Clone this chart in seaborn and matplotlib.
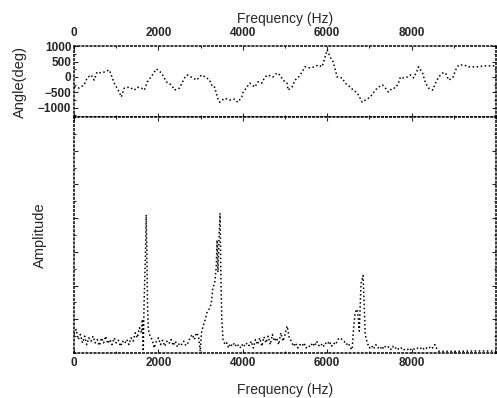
import matplotlib
matplotlib.use("Agg")
import matplotlib.pyplot as plt
import seaborn as sns
import numpy as np
import pandas as pd
from matplotlib.ticker import MultipleLocator, NullFormatter

sns.set_style("ticks")
plt.rcParams['font.family'] = ['Liberation Sans', 'DejaVu Sans']

# phase spectrum
phase_freq = [0, 119, 238, 310, 405, 476, 547, 643, 714, 833, 881, 952, 1071, 1119, 1190,
              1309, 1428, 1500, 1595, 1666, 1737, 1856, 1952, 2071, 2190, 2309, 2380, 2500,
              2618, 2690, 2800, 2904, 3023, 3142, 3213, 3284, 3332, 3404, 3451, 3570, 3690,
              3808, 3880, 3975, 3999, 4094, 4165, 4284, 4355, 4450, 4522, 4593, 4712, 4808,
              4879, 4950, 5046, 5070, 5165, 5236, 5307, 5403, 5474, 5593, 5712, 5783, 5879,
              5950, 5998, 6069, 6140, 6236, 6355, 6426, 6545, 6616, 6712, 6831, 6902, 7021,
              7140, 7211, 7307, 7378, 7449, 7545, 7616, 7687, 7735, 7806, 7902, 7973, 8044,
              8140, 8163, 8259, 8330, 8401, 8497, 8568, 8639, 8735, 8806, 8878, 8973, 9044,
              9115, 9234, 9353, 9472, 9591, 9710, 9877, 9996]
phase_deg = [-320, -360, -260, -30, 65, -100, 160, 130, 160, 230, 65, -200, -490, -650, -360,
             -330, -425, -330, -360, -425, -160, 65, 260, 130, -160, -260, -425, -360,
             -30, 65, np.nan, -100, 65, -30, -100, -330, -330, -690, -820, -690, -750,
             -720, -820, -650, -520, -330, -200, -330, -160, -200, 0, 65, 0, 130,
             65, -100, -200, -425, -330, -100, -30, 160, 330, 295, 330, 390, 330,
             650, 880, 650, 490, 0, -30, -200, -330, -425, -520, -820, -750, -650,
             -425, -330, -260, -360, -490, -360, -360, -200, 0, -30, 0, 65, -30,
             230, 330, 130, -200, -360, -425, -200, 0, 130, 130, -100, -30, 230,
             390, 390, 330, 330, 330, 360, 360, 360]

# amplitude spectrum (arbitrary units)
amp_freq = [0, 50, 100, 150, 200, 250, 300, 350, 400, 450, 500, 550, 600, 650, 700, 750,
            800, 850, 900, 950, 1000, 1050, 1100, 1150, 1200, 1250, 1300, 1350, 1400, 1450,
            1500, 1550, 1600, 1620, 1640, 1660, 1690, 1710, 1725, 1740, 1760, 1800, 1850,
            1900, 1950, 2000, 2050, 2100, 2150, 2200, 2250, 2300, 2350, 2400, 2450, 2500,
            2550, 2600, 2650, 2700, 2750, 2800, 2850, 2900, 2950, 2990, 3020, 3060, 3100,
            3150, 3200, 3250, 3290, 3330, 3370, 3390, 3410, 3440, 3460, 3480, 3500, 3530,
            3580, 3620, 3660, 3700, 3750, 3800, 3850, 3900, 3950, 4000, 4050, 4100, 4150,
            4200, 4250, 4300, 4350, 4400, 4450, 4500, 4550, 4600, 4650, 4700, 4750, 4800,
            4850, 4900, 4950, 5000, 5050, 5100, 5150, 5200, 5250, 5300, 5350, 5400, 5450,
            5500, 5550, 5600, 5650, 5700, 5750, 5800, 5850, 5900, 5950, 6000, 6050, 6100,
            6150, 6200, 6250, 6300, 6350, 6400, 6450, 6500, 6550, 6590, 6620, 6660, 6710,
            6735, 6760, 6800, 6850, 6870, 6900, 6950, 7000, 7050, 7100, 7150, 7200, 7250,
            7300, 7350, 7400, 7450, 7500, 7550, 7600, 7650, 7700, 7750, 7800, 7850, 7900,
            7950, 8000, 8050, 8100, 8150, 8200, 8250, 8300, 8350, 8400, 8450, 8500, 8550,
            8600, 8650, 9000, 9500, 10000]
amp_val = [0.55, 0.70, 0.40, 0.55, 0.30, 0.50, 0.25, 0.45, 0.35, 0.50, 0.30, 0.40, 0.22, 0.45, 0.30, 0.50,
           0.28, 0.40, 0.25, 0.45, 0.30, 0.38, 0.20, 0.35, 0.28, 0.40, 0.25, 0.45, 0.35, 0.60,
           0.45, 0.75, 0.60, 1.00, 0.05, 1.50, 2.80, 4.10, 3.00, 1.50, 0.70, 0.50, 0.40,
           0.15, 0.35, 0.45, 0.25, 0.38, 0.20, 0.35, 0.28, 0.40, 0.22, 0.35, 0.18, 0.30,
           0.25, 0.35, 0.22, 0.30, 0.45, 0.55, 0.40, 0.60, 0.50, 0.05, 0.60, 0.80, 0.95,
           1.20, 1.30, 1.45, 1.95, 2.05, 2.55, 3.35, 2.40, 3.55, 4.15, 2.30, 1.05, 0.40,
           0.25, 0.30, 0.15, 0.28, 0.20, 0.30, 0.18, 0.25, 0.15, 0.28, 0.20, 0.30, 0.22,
           0.35, 0.15, 0.40, 0.25, 0.45, 0.20, 0.48, 0.30, 0.50, 0.25, 0.55, 0.35, 0.45,
           0.25, 0.60, 0.35, 0.55, 0.80, 0.45, 0.35, 0.20, 0.30, 0.15, 0.25, 0.20, 0.30,
           0.15, 0.22, 0.18, 0.30, 0.20, 0.35, 0.22, 0.28, 0.18, 0.30, 0.25, 0.35, 0.20,
           0.30, 0.25, 0.40, 0.45, 0.40, 0.35, 0.25, 0.30, 0.15, 0.10, 0.65, 1.20, 1.30,
           1.05, 0.65, 2.05, 2.30, 1.65, 0.55, 0.30, 0.15, 0.22, 0.12, 0.25, 0.15, 0.20,
           0.10, 0.22, 0.15, 0.18, 0.10, 0.20, 0.12, 0.18, 0.10, 0.15, 0.08, 0.12, 0.10,
           0.15, 0.08, 0.12, 0.10, 0.15, 0.12, 0.18, 0.10, 0.15, 0.12, 0.20, 0.15, 0.25,
           0.12, 0.05, 0.05, 0.06, 0.06]

x_ticks = [0, 2000, 4000, 6000, 8000]
phase_ticks = [-1000, -500, 0, 500, 1000]

phase_df = pd.DataFrame({"freq": phase_freq, "deg": phase_deg})
amp_df = pd.DataFrame({"freq": amp_freq, "amp": amp_val})

fig = plt.figure(figsize=(4.97, 3.98), dpi=100)
ax1 = fig.add_axes([0.149, 0.706, 0.849, 0.178])
ax2 = fig.add_axes([0.149, 0.113, 0.849, 0.593])

line_kw = dict(color="black", linestyle=":", linewidth=1.1)
sns.lineplot(data=phase_df, x="freq", y="deg", ax=ax1, **line_kw)
sns.lineplot(data=amp_df, x="freq", y="amp", ax=ax2, **line_kw)

for ax in (ax1, ax2):
    ax.set_xlim(0, 10000)
    ax.set_xticks(x_ticks)
    ax.xaxis.set_minor_locator(MultipleLocator(1000))
    for s in ax.spines.values():
        s.set_linestyle(":")
        s.set_linewidth(1.1)
        s.set_color("black")
    ax.tick_params(which="both", direction="in", top=True, right=True,
                   bottom=True, left=True, labelsize=8.5, width=0.8)
    ax.tick_params(which="major", length=3)
    ax.tick_params(which="minor", length=1.5)

# top panel: angle
ax1.set_ylim(-1300, 1000)
ax1.set_yticks(phase_ticks)
ax1.yaxis.set_minor_locator(MultipleLocator(250))
ax1.xaxis.set_label_position("top")
ax1.tick_params(axis="x", labeltop=True, labelbottom=False, pad=5)
ax1.set_xlabel("Frequency (Hz)", fontsize=10)
ax1.xaxis.set_label_coords(0.5, 1.32)
ax1.set_ylabel("Angle(deg)", fontsize=10.5)
ax1.yaxis.set_label_coords(-0.111, 0.5)
ax1.tick_params(axis="y", pad=2)

# bottom panel: amplitude
ax2.set_ylim(0, 7)
ax2.set_yticks([1, 2, 3, 4, 5, 6])
ax2.yaxis.set_minor_locator(MultipleLocator(0.5))
ax2.yaxis.set_major_formatter(NullFormatter())
ax2.set_xlabel("Frequency (Hz)", fontsize=10)
ax2.xaxis.set_label_coords(0.5, -0.127)
ax2.set_ylabel("Amplitude", fontsize=10.5)
ax2.yaxis.set_label_coords(-0.064, 0.5)
ax2.tick_params(axis="x", pad=3)

for t in ax1.get_xticklabels() + ax2.get_xticklabels() + ax1.get_yticklabels():
    t.set_fontweight("bold")

fig.savefig("out.png", dpi=100)
